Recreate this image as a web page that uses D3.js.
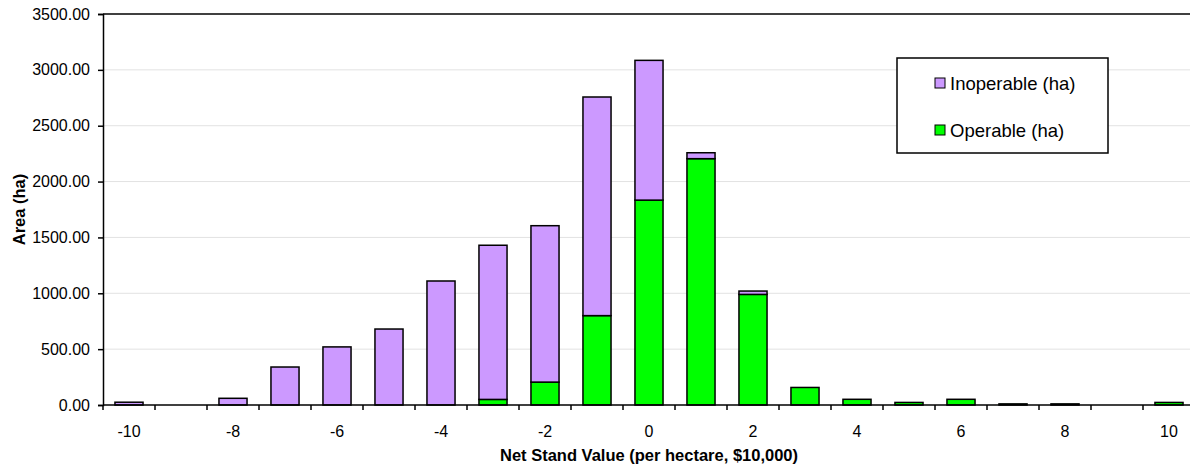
<!DOCTYPE html>
<html>
<head>
<meta charset="utf-8">
<script src="https://cdn.jsdelivr.net/npm/d3@7"></script>
<style>
  html, body { margin: 0; padding: 0; background: #fff; }
  svg { display: block; font-family: "Liberation Sans", Arial, sans-serif; }
</style>
</head>
<body>
<svg id="chart" width="1190" height="468"></svg>
<script>
// Net stand value classes (per hectare, $10,000)
const categories = [-10, -9, -8, -7, -6, -5, -4, -3, -2, -1, 0, 1, 2, 3, 4, 5, 6, 7, 8, 9, 10];
// Area by class (ha)
const operable   = [0, 0, 0, 0, 0, 0, 0, 50, 205, 800, 1834, 2205, 990, 157, 51, 23, 51, 10, 10, 0, 23];
const inoperable = [25, 0, 60, 340, 520, 680, 1110, 1380, 1400, 1957, 1251, 53, 30, 0, 0, 0, 0, 0, 0, 0, 0];
const yTicks = [0, 500, 1000, 1500, 2000, 2500, 3000, 3500];
const xLabels = [-10, -8, -6, -4, -2, 0, 2, 4, 6, 8, 10];
const seriesNames = ["Operable (ha)", "Inoperable (ha)"];
const seriesColors = ["#00FF00", "#CC99FF"];

const svg = d3.select("#chart");
const plot = { left: 103, right: 1195, top: 14, bottom: 405 };

const x = d3.scaleBand()
  .domain(categories)
  .range([plot.left, plot.right])
  .paddingInner(0.46)
  .paddingOuter(0.23);
const step = x.step();

const y = d3.scaleLinear().domain([0, 3500]).range([plot.bottom, plot.top]);

// gridlines
svg.append("g")
  .selectAll("line")
  .data(yTicks.filter(v => v > 0 && v < 3500))
  .join("line")
  .attr("x1", plot.left).attr("x2", plot.right)
  .attr("y1", d => y(d)).attr("y2", d => y(d))
  .attr("stroke", "#e2e2e2").attr("stroke-width", 1);

// top frame line
svg.append("line")
  .attr("x1", plot.left).attr("x2", plot.right)
  .attr("y1", y(3500)).attr("y2", y(3500))
  .attr("stroke", "#000").attr("stroke-width", 1.5);

// stacked bars
const rows = categories.map((c, i) => ({ cat: c, op: operable[i], inop: inoperable[i] }));
const stack = d3.stack().keys(["op", "inop"]);
const layers = stack(rows);

svg.append("g")
  .selectAll("g")
  .data(layers)
  .join("g")
  .attr("fill", (d, i) => seriesColors[i])
  .selectAll("rect")
  .data(d => d.filter(p => p[1] - p[0] > 0))
  .join("rect")
  .attr("x", d => x(d.data.cat))
  .attr("width", x.bandwidth())
  .attr("y", d => y(d[1]))
  .attr("height", d => y(d[0]) - y(d[1]))
  .attr("stroke", "#000")
  .attr("stroke-width", 1.5);

// y axis
const yAxis = d3.axisLeft(y)
  .tickValues(yTicks)
  .tickFormat(d3.format(".2f"))
  .tickSize(5)
  .tickPadding(8);
const gy = svg.append("g")
  .attr("transform", `translate(${plot.left},0)`)
  .call(yAxis);
gy.select(".domain").attr("stroke", "#000").attr("stroke-width", 1.5);
gy.selectAll(".tick line").attr("stroke", "#000").attr("stroke-width", 1.5);
gy.selectAll("text").attr("font-size", 16).attr("fill", "#000").attr("font-family", "Liberation Sans, Arial, sans-serif");

// x axis: ticks at class boundaries, labels on even classes
const gx = svg.append("g");
gx.append("line")
  .attr("x1", plot.left).attr("x2", plot.right)
  .attr("y1", plot.bottom).attr("y2", plot.bottom)
  .attr("stroke", "#000").attr("stroke-width", 1.5);
gx.selectAll("line.tk")
  .data(categories)
  .join("line")
  .attr("class", "tk")
  .attr("x1", d => x(d) + x.bandwidth() / 2 - step / 2)
  .attr("x2", d => x(d) + x.bandwidth() / 2 - step / 2)
  .attr("y1", plot.bottom).attr("y2", plot.bottom + 5)
  .attr("stroke", "#000").attr("stroke-width", 1.5);
gx.selectAll("text")
  .data(xLabels)
  .join("text")
  .attr("x", d => x(d) + x.bandwidth() / 2)
  .attr("y", 437)
  .attr("text-anchor", "middle")
  .attr("font-size", 16)
  .text(d => d);

// axis titles
svg.append("text")
  .attr("x", (plot.left + plot.right) / 2)
  .attr("y", 461)
  .attr("text-anchor", "middle")
  .attr("font-size", 16.5)
  .attr("font-weight", "bold")
  .text("Net Stand Value (per hectare, $10,000)");

svg.append("text")
  .attr("transform", `translate(25,${(plot.top + plot.bottom) / 2}) rotate(-90)`)
  .attr("text-anchor", "middle")
  .attr("font-size", 16.5)
  .attr("font-weight", "bold")
  .text("Area (ha)");

// legend
const legend = svg.append("g");
legend.append("rect")
  .attr("x", 897).attr("y", 58).attr("width", 211).attr("height", 95)
  .attr("fill", "#fff").attr("stroke", "#000").attr("stroke-width", 1.5);
const legendItems = [
  { name: seriesNames[1], color: seriesColors[1] },
  { name: seriesNames[0], color: seriesColors[0] }
];
const li = legend.selectAll("g.item")
  .data(legendItems)
  .join("g")
  .attr("class", "item")
  .attr("transform", (d, i) => `translate(935,${78 + i * 47})`);
li.append("rect")
  .attr("width", 10).attr("height", 10)
  .attr("fill", d => d.color)
  .attr("stroke", "#000").attr("stroke-width", 1);
li.append("text")
  .attr("x", 15).attr("y", 5)
  .attr("dominant-baseline", "central")
  .attr("font-size", 18.5)
  .text(d => d.name);
</script>
</body>
</html>
